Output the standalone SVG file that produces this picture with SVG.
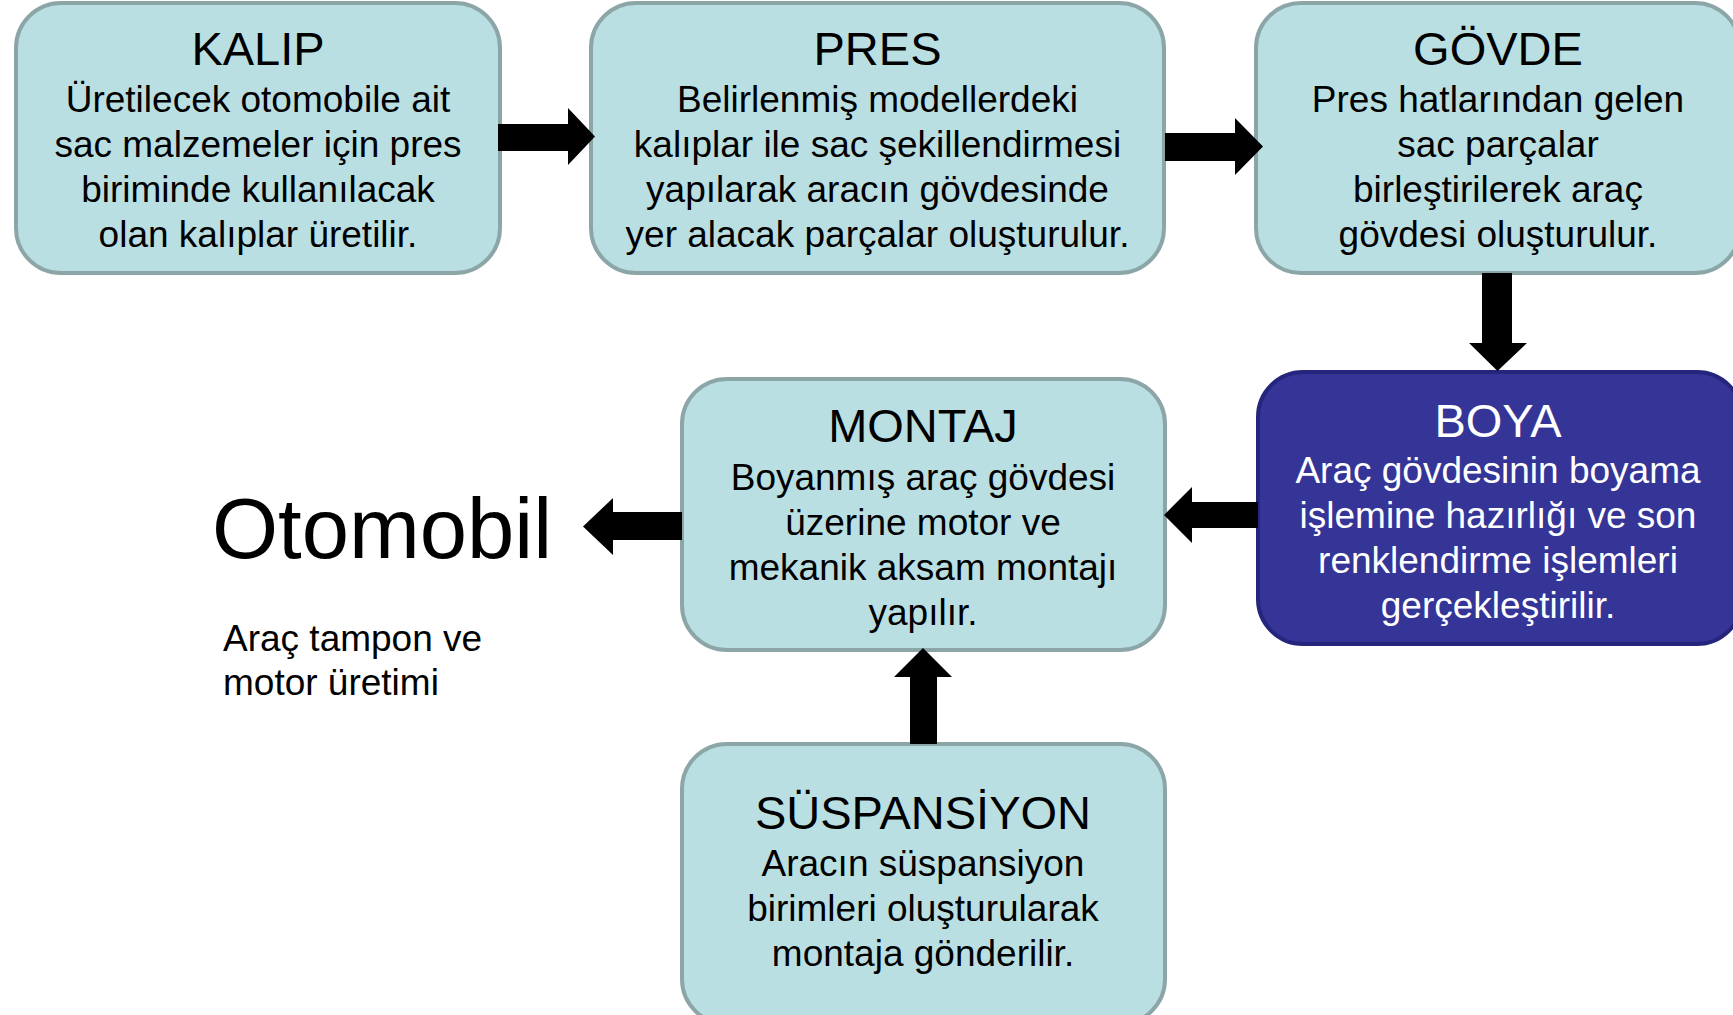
<svg xmlns="http://www.w3.org/2000/svg" width="1733" height="1015" viewBox="0 0 1733 1015">
  <style>
    .box { fill: #BADFE3; stroke: #8CA6A8; stroke-width: 4; }
    .box-dark { fill: #353597; stroke: #25257E; stroke-width: 4; }
    text { font-family: "Liberation Sans", Arial, sans-serif; text-anchor: middle; fill: #000; }
    .title { font-size: 47px; }
    .body { font-size: 37px; }
    .light { fill: #FFFFFF; }
    .arrow { fill: #000; }
  </style>
  <rect width="1733" height="1015" fill="#FFFFFF"/>

  <g id="kalip">
    <rect class="box" x="16" y="3" width="484" height="270" rx="45"/>
    <text class="title" x="258" y="65">KALIP</text>
    <text class="body" x="258" y="112">Üretilecek otomobile ait</text>
    <text class="body" x="258" y="157">sac malzemeler için pres</text>
    <text class="body" x="258" y="202">biriminde kullanılacak</text>
    <text class="body" x="258" y="247">olan kalıplar üretilir.</text>
  </g>

  <g id="pres">
    <rect class="box" x="591" y="3" width="573" height="270" rx="45"/>
    <text class="title" x="877.5" y="65">PRES</text>
    <text class="body" x="877.5" y="112">Belirlenmiş modellerdeki</text>
    <text class="body" x="877.5" y="157">kalıplar ile sac şekillendirmesi</text>
    <text class="body" x="877.5" y="202">yapılarak aracın gövdesinde</text>
    <text class="body" x="877.5" y="247">yer alacak parçalar oluşturulur.</text>
  </g>

  <g id="govde">
    <rect class="box" x="1256" y="3" width="484" height="270" rx="45"/>
    <text class="title" x="1498" y="65">GÖVDE</text>
    <text class="body" x="1498" y="112">Pres hatlarından gelen</text>
    <text class="body" x="1498" y="157">sac parçalar</text>
    <text class="body" x="1498" y="202">birleştirilerek araç</text>
    <text class="body" x="1498" y="247">gövdesi oluşturulur.</text>
  </g>

  <g id="boya">
    <rect class="box-dark" x="1258" y="372" width="484" height="272" rx="45"/>
    <text class="title light" x="1498" y="437">BOYA</text>
    <text class="body light" x="1498" y="483">Araç gövdesinin boyama</text>
    <text class="body light" x="1498" y="528">işlemine hazırlığı ve son</text>
    <text class="body light" x="1498" y="573">renklendirme işlemleri</text>
    <text class="body light" x="1498" y="618">gerçekleştirilir.</text>
  </g>

  <g id="montaj">
    <rect class="box" x="682" y="379" width="483" height="271" rx="45"/>
    <text class="title" x="923" y="442">MONTAJ</text>
    <text class="body" x="923" y="490">Boyanmış araç gövdesi</text>
    <text class="body" x="923" y="535">üzerine motor ve</text>
    <text class="body" x="923" y="580">mekanik aksam montajı</text>
    <text class="body" x="923" y="625">yapılır.</text>
  </g>

  <g id="suspansiyon">
    <rect class="box" x="682" y="744" width="483" height="280" rx="45"/>
    <text class="title" x="923" y="829">SÜSPANSİYON</text>
    <text class="body" x="923" y="876">Aracın süspansiyon</text>
    <text class="body" x="923" y="921">birimleri oluşturularak</text>
    <text class="body" x="923" y="966">montaja gönderilir.</text>
  </g>

  <g id="otomobil">
    <text x="212" y="558" style="font-size:85px; text-anchor:start">Otomobil</text>
    <text x="223" y="651" style="font-size:37px; text-anchor:start">Araç tampon ve</text>
    <text x="223" y="695" style="font-size:37px; text-anchor:start">motor üretimi</text>
  </g>

  <!-- connectors: block arrows, drawn over the box borders they touch -->
  <g id="connectors">
    <polygon class="arrow" points="498,124 568,124 568,108 595,136.5 568,165 568,151 498,151"/>
    <polygon class="arrow" points="1165,133 1235,133 1235,118 1263,146.5 1235,175 1235,161 1165,161"/>
    <polygon class="arrow" points="1482,273 1512,273 1512,343 1527,343 1497.5,371 1469,343 1482,343"/>
    <polygon class="arrow" points="1258,502 1192,502 1192,487 1164,515 1192,543 1192,528 1258,528"/>
    <polygon class="arrow" points="682,512 613,512 613,498 583,526.5 613,555 613,540 682,540"/>
    <polygon class="arrow" points="910,744 910,677 894,677 923,648 952,677 937,677 937,744"/>
  </g>
</svg>
